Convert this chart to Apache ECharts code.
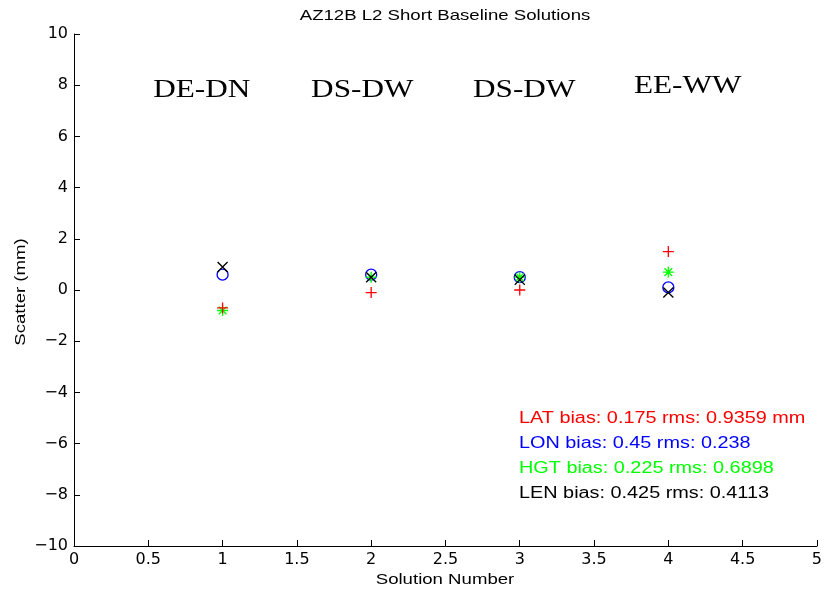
<!DOCTYPE html>
<html><head><meta charset="utf-8">
<script src="https://cdn.jsdelivr.net/npm/echarts@6/dist/echarts.min.js"></script>
<style>html,body{margin:0;padding:0;background:#fff}#c{width:825px;height:593px}</style>
</head><body><div id="c"></div>
<script>
const solutions = [1, 2, 3, 4];
const latValues = [-0.7, -0.1, 0.0, 1.5];
const lonValues = [0.6, 0.6, 0.5, 0.1];
const hgtValues = [-0.8, 0.5, 0.5, 0.7];
const lenValues = [0.9, 0.5, 0.4, -0.1];
const pairLabels = ['DE-DN', 'DS-DW', 'DS-DW', 'EE-WW'];
const pairLabelX = [0.86, 1.94, 3.03, 4.13];
const pairLabelY = [7.8, 7.8, 7.8, 7.95];
const statLines = [
  {text: 'LAT bias: 0.175 rms: 0.9359 mm', color: '#ff0000'},
  {text: 'LON bias: 0.45 rms: 0.238', color: '#0000ff'},
  {text: 'HGT bias: 0.225 rms: 0.6898', color: '#00ff00'},
  {text: 'LEN bias: 0.425 rms: 0.4113', color: '#000000'}
];

const font = 'Liberation Sans, Arial, sans-serif';
const tickFont = 'DejaVu Sans, sans-serif';
const SX = 1.24;
const plus = 'path://M0,5 L10,5 M5,0 L5,10';
const cross = 'path://M0,0 L10,10 M0,10 L10,0';
const star = 'path://M0,5 L10,5 M5,0 L5,10 M1.5,1.5 L8.5,8.5 M1.5,8.5 L8.5,1.5';
function pts(vals){ return solutions.map((s,i)=>[s, vals[i]]); }
function mk(name, vals, symbol, color, size){
  return {name, type:'scatter', data: pts(vals), symbol, symbolSize: size,
    itemStyle:{color: symbol==='circle' ? 'rgba(0,0,0,0)' : color, borderColor: color, borderWidth: 1.3, opacity:1},
    emphasis:{disabled:true}, animation:false, z: 3};
}
const chart = echarts.init(document.getElementById('c'));
const minus = v => String(v).replace('-', '\u2212');
chart.setOption({
  animation:false,
  backgroundColor:'#fff',
  grid:{left:74, right:7, top:34, bottom:47},
  xAxis:{type:'value', min:0, max:5, interval:0.5,
    axisLine:{onZero:false, lineStyle:{color:'#000', width:1}},
    axisTick:{inside:true, length:6, lineStyle:{color:'#000'}},
    axisLabel:{fontFamily:tickFont, fontSize:16, color:'#000', margin:6, formatter: minus},
    splitLine:{show:false}},
  yAxis:{type:'value', min:-10, max:10, interval:2,
    axisLine:{onZero:false, lineStyle:{color:'#000', width:1}},
    axisTick:{inside:true, length:6, lineStyle:{color:'#000'}},
    axisLabel:{fontFamily:tickFont, fontSize:16, color:'#000', margin:6, formatter: minus},
    splitLine:{show:false}},
  series:[
    mk('LON', lonValues, 'circle', '#0000ff', 11),
    mk('HGT', hgtValues, star, '#00ff00', 11),
    mk('LAT', latValues, plus, '#ff0000', 11),
    mk('LEN', lenValues, cross, '#000000', 10)
  ]
});
const gfx = [
  {type:'text', x:445, y:16, scaleX:SX, style:{text:'AZ12B L2 Short Baseline Solutions', fontFamily:font, fontSize:15, fill:'#000', align:'center', verticalAlign:'middle'}},
  {type:'text', x:445, y:580, scaleX:SX, style:{text:'Solution Number', fontFamily:font, fontSize:15, fill:'#000', align:'center', verticalAlign:'middle'}},
  {type:'text', x:21, y:292, rotation:Math.PI/2, scaleX:SX, style:{text:'Scatter (mm)', fontFamily:font, fontSize:15, fill:'#000', align:'center', verticalAlign:'middle'}},
  ...statLines.map((s,i)=>({type:'text', x:519, y:419 + i*25, scaleX:SX, style:{text:s.text, fontFamily:font, fontSize:16, fill:s.color, align:'left', verticalAlign:'middle'}})),
  ...pairLabels.map((t,i)=>{
    const p = chart.convertToPixel({gridIndex:0}, [pairLabelX[i], pairLabelY[i]]);
    return {type:'text', x:p[0], y:p[1], scaleX:1.2, style:{text:t, fontFamily:'Liberation Serif, Times New Roman, serif', fontSize:26, fill:'#000', align:'center', verticalAlign:'middle'}};
  })
];
chart.setOption({graphic: gfx});
</script></body></html>
